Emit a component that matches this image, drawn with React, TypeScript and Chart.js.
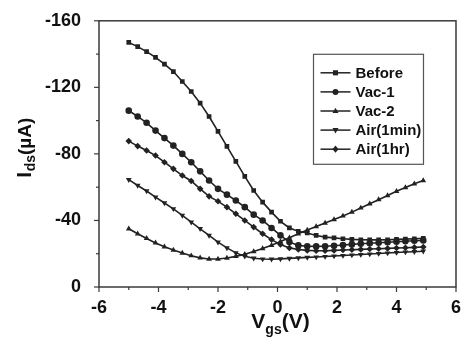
import React, { useEffect, useRef } from "react";
import { Chart, registerables } from "chart.js";

Chart.register(...registerables);

const VGS = [-5, -4.7, -4.4, -4.1, -3.8, -3.5, -3.2, -2.9, -2.6, -2.3, -2.0, -1.7, -1.4, -1.1, -0.8, -0.5, -0.2, 0.1, 0.4, 0.7, 1.0, 1.3, 1.6, 1.9, 2.2, 2.5, 2.8, 3.1, 3.4, 3.7, 4.0, 4.3, 4.6, 4.9];

const BEFORE = [-147, -144.5, -141.5, -138, -134, -129.5, -123.5, -117.5, -110.5, -102.5, -93.5, -84.5, -75.5, -66.5, -58, -51, -45, -39.5, -35.5, -33.5, -32.5, -31, -30, -29.5, -29, -28.6, -28.4, -28.3, -28.3, -28.4, -28.6, -28.8, -29, -29.3];
const VAC1 = [-106, -102.5, -98.7, -94, -89.5, -85, -80, -75, -69.5, -64, -59, -55.5, -52, -48, -43.5, -40, -35.5, -31, -27, -25, -24.5, -24.4, -24.5, -24.8, -25.2, -25.6, -26, -26.3, -26.6, -26.9, -27.2, -27.5, -27.8, -28];
const VAC2 = [-35, -32, -29.2, -26.5, -24.2, -22.2, -20.4, -18.8, -17.5, -16.8, -16.8, -17.4, -18.4, -19.7, -21.3, -23.1, -25.1, -27.3, -29.6, -32, -34.2, -36.3, -38.4, -40.5, -42.7, -45, -47.5, -50, -52.5, -55, -57.5, -59.8, -62, -64];
const AIR_1MIN = [-64.5, -61, -57.7, -54, -50.5, -47, -43, -39, -35, -31, -27, -23.5, -20.5, -18.5, -17.3, -16.8, -16.7, -16.9, -17.2, -17.5, -17.8, -18, -18.3, -18.6, -18.9, -19.2, -19.5, -19.8, -20.1, -20.4, -20.7, -21, -21.2, -21.5];
const AIR_1HR = [-87.7, -84.7, -82, -79, -75, -71, -67, -63.7, -59, -54.5, -51.5, -48, -44, -40, -36, -32, -28.5, -25.5, -23.5, -22.5, -22, -21.8, -21.8, -22, -22.2, -22.4, -22.6, -22.8, -23, -23.2, -23.4, -23.6, -23.8, -24];

const SERIES_LABELS = ["Before", "Vac-1", "Vac-2", "Air(1min)", "Air(1hr)"];
const X_TICKS = [-6, -4, -2, 0, 2, 4, 6];
const Y_TICKS = [-160, -120, -80, -40, 0];

const INK = "#222";
const FONT = "'Liberation Sans', Arial, sans-serif";

const STYLES = [
  { pointStyle: "rect", rotation: 0 },
  { pointStyle: "circle", rotation: 0 },
  { pointStyle: "triangle", rotation: 0 },
  { pointStyle: "triangle", rotation: 180 },
  { pointStyle: "rectRot", rotation: 0 },
];

function drawMarker(ctx: CanvasRenderingContext2D, style: string, rot: number, x: number, y: number, r: number) {
  ctx.beginPath();
  if (style === "rect") {
    ctx.rect(x - r * 0.85, y - r * 0.85, r * 1.7, r * 1.7);
  } else if (style === "circle") {
    ctx.arc(x, y, r, 0, Math.PI * 2);
  } else if (style === "triangle") {
    const s = rot === 180 ? -1 : 1;
    ctx.moveTo(x, y - s * r * 1.1);
    ctx.lineTo(x + r, y + s * r * 0.7);
    ctx.lineTo(x - r, y + s * r * 0.7);
    ctx.closePath();
  } else {
    ctx.moveTo(x, y - r * 1.2);
    ctx.lineTo(x + r, y);
    ctx.lineTo(x, y + r * 1.2);
    ctx.lineTo(x - r, y);
    ctx.closePath();
  }
  ctx.fill();
}

const decorPlugin = {
  id: "decor",
  afterDraw(chart: any) {
    const { ctx, chartArea: a, scales } = chart;
    const xs = scales.x;
    const ys = scales.y;
    ctx.save();
    ctx.strokeStyle = "#3a3a3a";
    ctx.lineWidth = 1.5;
    ctx.strokeRect(a.left, a.top, a.right - a.left, a.bottom - a.top);

    ctx.lineWidth = 1.2;
    for (let i = 0; i < X_TICKS.length; i++) {
      const v = X_TICKS[i];
      const px = xs.getPixelForValue(v);
      ctx.beginPath();
      ctx.moveTo(px, a.bottom);
      ctx.lineTo(px, a.bottom + 5);
      ctx.stroke();
      if (i < X_TICKS.length - 1) {
        const m = xs.getPixelForValue((v + X_TICKS[i + 1]) / 2);
        ctx.beginPath();
        ctx.moveTo(m, a.bottom);
        ctx.lineTo(m, a.bottom + 3);
        ctx.stroke();
      }
    }
    for (let i = 0; i < Y_TICKS.length; i++) {
      const v = Y_TICKS[i];
      const py = ys.getPixelForValue(v);
      ctx.beginPath();
      ctx.moveTo(a.left, py);
      ctx.lineTo(a.left - 5, py);
      ctx.stroke();
      if (i < Y_TICKS.length - 1) {
        const m = ys.getPixelForValue((v + Y_TICKS[i + 1]) / 2);
        ctx.beginPath();
        ctx.moveTo(a.left, m);
        ctx.lineTo(a.left - 3, m);
        ctx.stroke();
      }
    }

    // legend
    const bx = a.left + 214.5;
    const by = a.top + 33.5;
    ctx.strokeStyle = "#555";
    ctx.lineWidth = 1.2;
    ctx.strokeRect(bx, by, 110, 110);
    ctx.font = `bold 15px ${FONT}`;
    ctx.textBaseline = "middle";
    ctx.textAlign = "left";
    chart.data.datasets.forEach((ds: any, i: number) => {
      const cy = by + 18.5 + i * 19.1;
      ctx.strokeStyle = INK;
      ctx.lineWidth = 1.5;
      ctx.beginPath();
      ctx.moveTo(bx + 7, cy);
      ctx.lineTo(bx + 37, cy);
      ctx.stroke();
      ctx.fillStyle = INK;
      drawMarker(ctx, ds.pointStyle, ds.pointRotation || 0, bx + 22, cy, 3);
      ctx.fillStyle = "#111";
      ctx.fillText(ds.label, bx + 42, cy + 1);
    });

    // y axis title: I_ds(µA)
    ctx.fillStyle = "#111";
    ctx.save();
    ctx.translate(31, (a.top + a.bottom) / 2 - 6);
    ctx.rotate(-Math.PI / 2);
    ctx.textBaseline = "alphabetic";
    const f1 = `bold 21px ${FONT}`;
    const f2 = `bold 14px ${FONT}`;
    const f3 = `bold 19px ${FONT}`;
    ctx.font = f1; const w1 = ctx.measureText("I").width;
    ctx.font = f2; const w2 = ctx.measureText("ds").width;
    ctx.font = f3; const w3 = ctx.measureText("(\u00B5A)").width;
    let sx = -(w1 + w2 + w3) / 2;
    ctx.font = f1; ctx.fillText("I", sx, 0); sx += w1 + 0.5;
    ctx.font = f2; ctx.fillText("ds", sx, 4); sx += w2;
    ctx.font = f3; ctx.fillText("(\u00B5A)", sx, 0);
    ctx.restore();

    // x axis title: V_gs(V)
    ctx.save();
    ctx.textBaseline = "alphabetic";
    const g1 = `bold 21px ${FONT}`;
    const g2 = `bold 14px ${FONT}`;
    ctx.font = g1; const v1 = ctx.measureText("V").width; const v3 = ctx.measureText("(V)").width;
    ctx.font = g2; const v2 = ctx.measureText("gs").width;
    let tx = (a.left + a.right) / 2 + 3 - (v1 + v2 + v3) / 2;
    ctx.font = g1; ctx.fillText("V", tx, 328); tx += v1;
    ctx.font = g2; ctx.fillText("gs", tx, 334); tx += v2;
    ctx.font = g1; ctx.fillText("(V)", tx, 328);
    ctx.restore();

    ctx.restore();
  },
};

export default function App() {
  const ref = useRef<HTMLCanvasElement | null>(null);
  useEffect(() => {
    document.body.style.margin = "0";
    const series = [BEFORE, VAC1, VAC2, AIR_1MIN, AIR_1HR];
    const datasets = series.map((vals, i) => ({
      label: SERIES_LABELS[i],
      data: VGS.map((x, j) => ({ x, y: vals[j] })),
      borderColor: INK,
      backgroundColor: INK,
      borderWidth: 1.6,
      pointStyle: STYLES[i].pointStyle,
      pointRotation: STYLES[i].rotation,
      pointRadius: 3.3,
      pointBorderWidth: 0,
      pointBackgroundColor: INK,
      tension: 0,
    }));
    const chart = new Chart(ref.current as HTMLCanvasElement, {
      type: "line",
      data: { datasets } as any,
      options: {
        animation: false,
        responsive: false,
        devicePixelRatio: 1,
        layout: { padding: { top: 20, right: 4, left: 0, bottom: 0 } },
        plugins: { legend: { display: false }, tooltip: { enabled: false } },
        scales: {
          x: {
            type: "linear",
            min: -6,
            max: 6,
            afterBuildTicks: (s: any) => { s.ticks = X_TICKS.map((v) => ({ value: v })); },
            afterFit: (s: any) => { s.height = 54; },
            grid: { display: false },
            border: { display: false },
            ticks: { color: "#111", font: { family: FONT, size: 18, weight: "bold" }, padding: 2, maxRotation: 0 },
          },
          y: {
            type: "linear",
            min: -160,
            max: 0,
            reverse: true,
            afterBuildTicks: (s: any) => { s.ticks = Y_TICKS.map((v) => ({ value: v })); },
            afterFit: (s: any) => { s.width = 99; },
            grid: { display: false },
            border: { display: false },
            ticks: { color: "#111", font: { family: FONT, size: 18, weight: "bold" }, padding: 10 },
          },
        },
      },
      plugins: [decorPlugin],
    } as any);
    return () => chart.destroy();
  }, []);
  return <canvas ref={ref} width={463} height={341} style={{ display: "block", width: 463, height: 341 }} />;
}
